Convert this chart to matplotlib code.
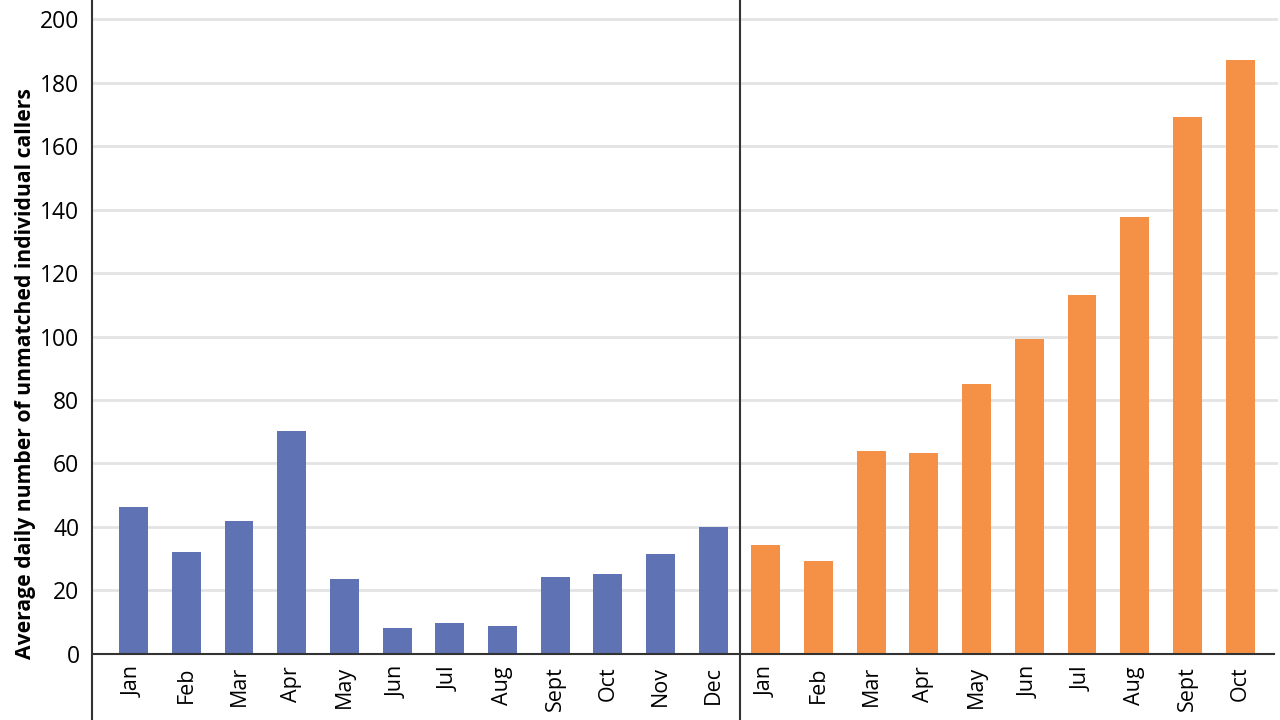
import numpy as np
import matplotlib
matplotlib.use('Agg')
import matplotlib.pyplot as plt

# Данные
months_a = ['Jan', 'Feb', 'Mar', 'Apr', 'May', 'Jun', 'Jul', 'Aug', 'Sept', 'Oct', 'Nov', 'Dec']
values_a = [46.3, 32.1, 41.9, 70.2, 23.6, 8.2, 9.8, 8.8, 24.3, 25.2, 31.5, 40.0]
months_b = ['Jan', 'Feb', 'Mar', 'Apr', 'May', 'Jun', 'Jul', 'Aug', 'Sept', 'Oct']
values_b = [34.3, 29.3, 63.9, 63.3, 85.0, 99.2, 113.1, 137.6, 169.1, 187.1]

blue = '#5f72b3'
orange = '#f59146'

plt.rcParams['font.family'] = ['Open Sans', 'DejaVu Sans']

fig = plt.figure(figsize=(12.8, 7.2), dpi=100)
ax = fig.add_axes([92 / 1280, 0, (1278 - 92) / 1280, 1])

x_a = np.arange(len(months_a))
x_b = np.arange(len(months_b)) + len(months_a)

ax.bar(x_a, values_a, width=0.55, color=blue, zorder=3)
ax.bar(x_b, values_b, width=0.55, color=orange, zorder=3)

ax.set_xlim(-0.79, 21.72)
ax.set_ylim(-20.8, 206)
ax.set_yticks(np.arange(0, 201, 20))

# сетка
for yv in range(20, 201, 20):
    ax.axhline(yv, color='#e3e3e3', lw=2, zorder=1)
ax.axhline(0, xmin=0, xmax=0.997, color='#333333', lw=1.5, zorder=4)
ax.axvline(len(months_a) - 0.5, color='#333333', lw=1.5, zorder=4)

for s in ['top', 'right', 'bottom']:
    ax.spines[s].set_visible(False)
ax.spines['left'].set_color('#333333')
ax.spines['left'].set_linewidth(1.5)

ax.tick_params(axis='y', length=0, labelsize=16.5, pad=9)
ax.set_xticks([])

# подписи месяцев
for xi, m in zip(list(x_a) + list(x_b), months_a + months_b):
    ax.text(xi, -3.8, m, rotation=90, ha='center', va='top', fontsize=15.5)

ax.set_ylabel('Average daily number of unmatched individual callers',
              fontsize=15.2, fontweight='bold')
ax.yaxis.set_label_coords(-0.047, 0.481)

fig.savefig('out.png', dpi=100)
